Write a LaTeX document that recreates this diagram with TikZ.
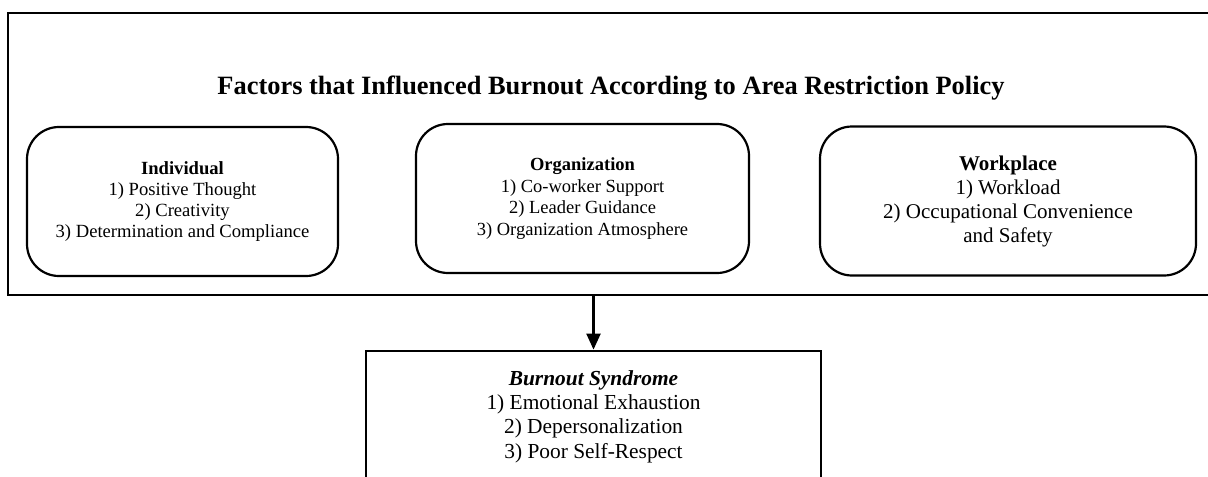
\documentclass[tikz,border=0pt]{standalone}
\usepackage{fontspec}
\setmainfont{Liberation Serif}
\usetikzlibrary{arrows.meta}

\begin{document}
\begin{tikzpicture}
	[x=0.5pt, y=-0.5pt,
	 framebox/.style={draw, line width=1.4pt, rectangle, inner sep=0pt},
	 factorbox/.style={draw, line width=1.1pt, rectangle, rounded corners=16pt,
		align=center, minimum height=74.5pt},
	 resultbox/.style={draw, line width=1.4pt, rectangle, align=center,
		minimum width=227.5pt, minimum height=65.5pt},
	 arrowline/.style={line width=1.1pt, -{Triangle[width=7pt,length=8pt]}}]

	\useasboundingbox (0,0) rectangle (1208,476);

	% outer frame
	\node [framebox, minimum width=603.5pt, minimum height=141pt] (frame) at (611.5,154) {};
	\node [font=\fontsize{13.2}{15}\selectfont\bfseries] (title) at (611,88)
		{Factors that Influenced Burnout According to Area Restriction Policy};

	% three factor boxes
	\node [factorbox, minimum width=155.5pt, font=\fontsize{9.3}{10.5}\selectfont] (individual) at (182.5,201.5){
		\textbf{Individual}\\
		1) Positive Thought\\
		2) Creativity\\
		3) Determination and Compliance
	};
	\node [factorbox, minimum width=166.5pt, font=\fontsize{9.25}{10.7}\selectfont] (organization) at (582.5,198.5){
		\textbf{Organization}\\
		1) Co-worker Support\\
		2) Leader Guidance\\
		3) Organization Atmosphere
	};
	\node [factorbox, minimum width=188pt, font=\fontsize{10.5}{12}\selectfont] (workplace) at (1008,201){
		\textbf{Workplace}\\
		1) Workload\\
		2) Occupational Convenience\\
		and Safety
	};

	% outcome
	\node [resultbox, font=\fontsize{10.7}{12.2}\selectfont] (burnout) at (593.5,416.5){
		\textbf{\textit{Burnout Syndrome}}\\
		1) Emotional Exhaustion\\
		2) Depersonalization\\
		3) Poor Self-Respect
	};

	\draw [arrowline] (burnout.north |- frame.south) -- (burnout.north);
\end{tikzpicture}
\end{document}
